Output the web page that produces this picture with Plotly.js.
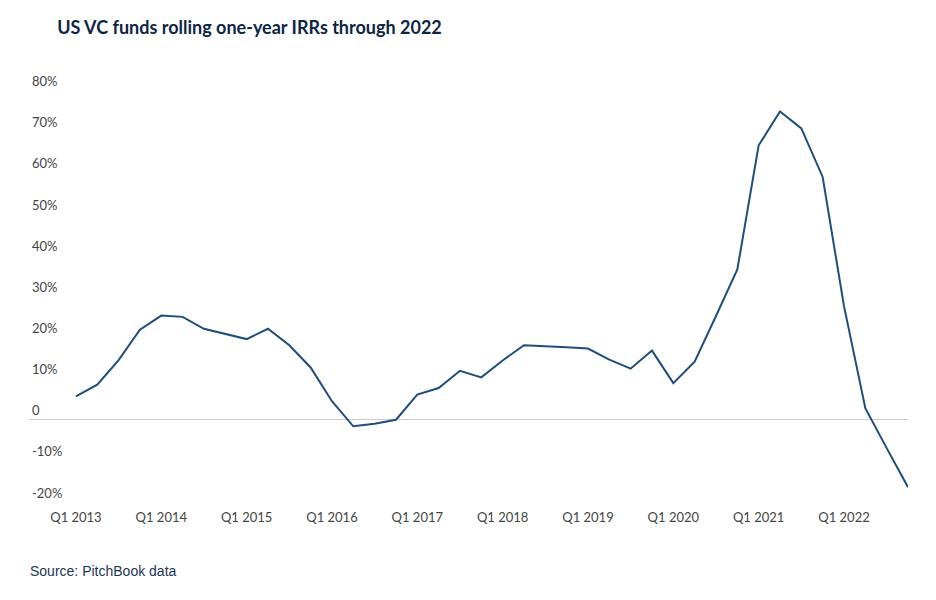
<!DOCTYPE html>
<html>
<head>
<meta charset="utf-8">
<script src="https://cdn.plot.ly/plotly-3.0.1.min.js"></script>
<style>html,body{margin:0;padding:0;background:#fff;}#chart{width:936px;height:600px;}</style>
</head>
<body>
<div id="chart"></div>
<script>
const quarters = [];
const years = [2013,2014,2015,2016,2017,2018,2019,2020,2021,2022];
years.forEach(y => { for (let q = 1; q <= 4; q++) quarters.push('Q' + q + ' ' + y); });

const irr = [
  5.7, 8.5, 14.5, 21.9, 25.3, 25.0, 22.1, 20.8, 19.6, 22.1,
  18.1, 12.7, 4.5, -1.6, -1.0, 0.0, 6.1, 7.7, 11.9, 10.3,
  14.4, 18.1, 17.9, 17.6, 17.3, 14.6, 12.4, 16.8, 8.9, 14.1,
  25.2, 36.5, 66.7, 74.9, 70.8, 59.0, 27.6, 2.8, -6.9, -16.4
];

const tickQuarters = quarters.filter(q => q.startsWith('Q1'));
const yTicks = [-20, -10, 0, 10, 20, 30, 40, 50, 60, 70, 80];
const yTickText = yTicks.map(v => v === 0 ? '0' : v + '%');

const trace = {
  x: quarters,
  y: irr,
  type: 'scatter',
  mode: 'lines',
  line: {color: '#1f4e7c', width: 2},
  hoverinfo: 'x+y'
};

const layout = {
  width: 936,
  height: 600,
  margin: {l: 29, r: 28, t: 70, b: 98},
  paper_bgcolor: '#ffffff',
  plot_bgcolor: '#ffffff',
  showlegend: false,
  font: {family: 'Lato, sans-serif', color: '#444444', size: 13},
  title: {
    text: '<b>US VC funds rolling one-year IRRs through 2022</b>',
    x: 30 / 936, xref: 'paper', xanchor: 'left',
    y: 1 - 28 / 600, yref: 'container', yanchor: 'middle',
    font: {family: 'Lato, sans-serif', size: 18, color: '#0e2544'}
  },
  xaxis: {
    type: 'category',
    range: [-2.2, 39],
    tickmode: 'array',
    tickvals: tickQuarters,
    ticktext: tickQuarters,
    showgrid: false,
    zeroline: false,
    showline: false,
    ticks: '',
    ticklabelstandoff: 6,
    tickfont: {family: 'Lato, sans-serif', size: 13, color: '#444444'},
    fixedrange: true
  },
  yaxis: {
    range: [-20, 85],
    tickmode: 'array',
    tickvals: yTicks,
    ticktext: yTickText,
    showgrid: false,
    zeroline: true,
    zerolinecolor: '#cccccc',
    zerolinewidth: 1,
    showline: false,
    ticks: '',
    ticklabelposition: 'inside',
    ticklabelshift: -9,
    tickfont: {family: 'Lato, sans-serif', size: 13, color: '#444444'},
    fixedrange: true
  },
  annotations: [{
    text: 'Source: PitchBook data',
    xref: 'paper', yref: 'paper',
    x: 0, xanchor: 'left', xshift: -1,
    y: -0.16, yanchor: 'middle',
    showarrow: false,
    font: {family: 'Liberation Sans, Arial, sans-serif', size: 14, color: '#1d3557'}
  }]
};

Plotly.newPlot('chart', [trace], layout, {displayModeBar: false, staticPlot: true});
</script>
</body>
</html>
